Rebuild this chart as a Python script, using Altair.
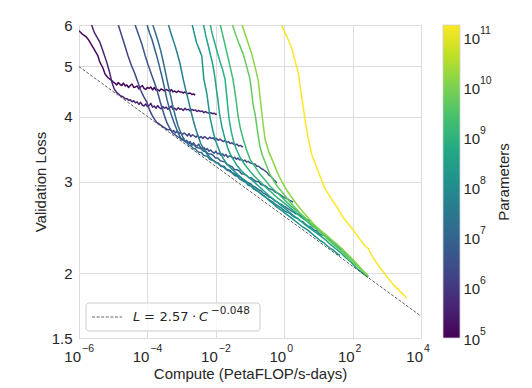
import altair as alt
import pandas as pd

# ---------------- data ----------------
# model sizes (parameters) for each training curve, small -> large
params = [1.3e5, 4e5, 1.8e6, 3.6e6, 7.5e6, 1.5e7, 4e7, 1.8e8, 4e8, 8.5e8, 2e9, 5.5e9, 1.5e10, 1.75e11]

# each curve: (log10 compute [PF/s-days], validation loss)
curve_01 = [(-6.00, 5.85), (-5.90, 5.76), (-5.80, 5.70), (-5.74, 5.64), (-5.65, 5.52), (-5.53, 5.35), (-5.45, 5.24),
            (-5.39, 5.09), (-5.30, 4.96), (-5.24, 4.83), (-5.15, 4.75), (-5.04, 4.69), (-5.00, 4.66),
            (-4.95, 4.64), (-4.90, 4.60), (-4.85, 4.65), (-4.80, 4.61), (-4.75, 4.59), (-4.70, 4.64), (-4.65, 4.58),
            (-4.60, 4.60), (-4.55, 4.55), (-4.50, 4.59), (-4.45, 4.62), (-4.40, 4.55), (-4.35, 4.56), (-4.30, 4.58),
            (-4.25, 4.52), (-4.20, 4.56), (-4.15, 4.59), (-4.10, 4.53), (-4.05, 4.51), (-4.00, 4.55), (-3.95, 4.53),
            (-3.90, 4.56), (-3.85, 4.50), (-3.80, 4.55), (-3.75, 4.50), (-3.70, 4.51), (-3.65, 4.48), (-3.60, 4.52),
            (-3.55, 4.50), (-3.50, 4.48), (-3.45, 4.51), (-3.40, 4.49), (-3.35, 4.47), (-3.30, 4.51), (-3.25, 4.46),
            (-3.20, 4.48), (-3.15, 4.45), (-3.10, 4.48), (-3.05, 4.46), (-3.00, 4.46), (-2.95, 4.44), (-2.90, 4.46),
            (-2.85, 4.43), (-2.80, 4.43), (-2.75, 4.44), (-2.70, 4.41), (-2.65, 4.42), (-2.60, 4.40)]
curve_02 = [(-5.63, 6.00), (-5.55, 5.80), (-5.47, 5.68), (-5.39, 5.56), (-5.30, 5.35), (-5.19, 5.09), (-5.10, 4.85),
            (-5.04, 4.66), (-4.97, 4.52), (-4.90, 4.45), (-4.84, 4.42), (-4.78, 4.38), (-4.72, 4.37), (-4.66, 4.33),
            (-4.60, 4.33), (-4.55, 4.30), (-4.50, 4.31), (-4.45, 4.27), (-4.40, 4.29), (-4.35, 4.25), (-4.30, 4.27),
            (-4.25, 4.22), (-4.20, 4.26), (-4.15, 4.21), (-4.10, 4.19), (-4.05, 4.23), (-4.00, 4.18), (-3.95, 4.20),
            (-3.90, 4.24), (-3.85, 4.17), (-3.80, 4.19), (-3.75, 4.15), (-3.70, 4.20), (-3.65, 4.16), (-3.60, 4.14),
            (-3.55, 4.18), (-3.50, 4.15), (-3.45, 4.17), (-3.40, 4.13), (-3.35, 4.16), (-3.30, 4.19), (-3.25, 4.13),
            (-3.20, 4.15), (-3.15, 4.12), (-3.10, 4.16), (-3.05, 4.13), (-3.00, 4.14), (-2.95, 4.11), (-2.90, 4.15),
            (-2.85, 4.12), (-2.80, 4.13), (-2.75, 4.10), (-2.70, 4.13), (-2.65, 4.11), (-2.60, 4.12), (-2.55, 4.09),
            (-2.50, 4.11), (-2.45, 4.09), (-2.40, 4.10), (-2.35, 4.07), (-2.30, 4.09), (-2.25, 4.07), (-2.20, 4.06),
            (-2.15, 4.07), (-2.10, 4.05), (-2.05, 4.06), (-2.00, 4.04), (-1.97, 4.04)]
curve_03 = [(-4.85, 6.00), (-4.75, 5.72), (-4.66, 5.48), (-4.57, 5.24), (-4.47, 5.02), (-4.38, 4.86), (-4.28, 4.66),
            (-4.20, 4.50), (-4.10, 4.36), (-4.02, 4.27), (-3.94, 4.12), (-3.86, 4.02), (-3.79, 3.95), (-3.73, 3.90),
            (-3.68, 3.88), (-3.63, 3.86), (-3.58, 3.84), (-3.54, 3.82), (-3.48, 3.80), (-3.43, 3.78), (-3.38, 3.77),
            (-3.33, 3.78), (-3.28, 3.74), (-3.23, 3.76), (-3.18, 3.72), (-3.13, 3.75), (-3.08, 3.71), (-3.03, 3.73),
            (-2.98, 3.69), (-2.93, 3.72), (-2.88, 3.70), (-2.83, 3.67), (-2.78, 3.71), (-2.73, 3.66), (-2.68, 3.69),
            (-2.63, 3.67), (-2.58, 3.65), (-2.53, 3.68), (-2.48, 3.64), (-2.43, 3.66), (-2.38, 3.63), (-2.33, 3.66),
            (-2.28, 3.64), (-2.23, 3.62), (-2.18, 3.65), (-2.13, 3.63), (-2.08, 3.64), (-2.03, 3.61), (-1.98, 3.63),
            (-1.93, 3.60), (-1.88, 3.62), (-1.83, 3.60), (-1.78, 3.58), (-1.73, 3.60), (-1.68, 3.57), (-1.63, 3.58),
            (-1.58, 3.55), (-1.53, 3.56), (-1.48, 3.54), (-1.43, 3.53), (-1.38, 3.54), (-1.33, 3.51), (-1.28, 3.52),
            (-1.23, 3.50), (-1.20, 3.50)]
curve_04 = [(-4.36, 6.00), (-4.26, 5.75), (-4.16, 5.51), (-4.07, 5.25), (-3.98, 5.03), (-3.88, 4.82), (-3.78, 4.62),
            (-3.70, 4.45), (-3.63, 4.28), (-3.56, 4.13), (-3.49, 3.99), (-3.42, 3.88), (-3.34, 3.79), (-3.26, 3.72),
            (-3.19, 3.69), (-3.12, 3.66), (-3.05, 3.64), (-3.00, 3.61), (-2.95, 3.63), (-2.90, 3.58), (-2.85, 3.60),
            (-2.80, 3.56), (-2.75, 3.58), (-2.70, 3.53), (-2.65, 3.56), (-2.60, 3.52), (-2.55, 3.51), (-2.50, 3.54),
            (-2.45, 3.49), (-2.40, 3.47), (-2.35, 3.49), (-2.30, 3.45), (-2.25, 3.47), (-2.20, 3.43), (-2.15, 3.45),
            (-2.10, 3.42), (-2.05, 3.40), (-2.00, 3.43), (-1.95, 3.39), (-1.90, 3.40), (-1.85, 3.37), (-1.80, 3.39),
            (-1.75, 3.36), (-1.70, 3.38), (-1.65, 3.34), (-1.60, 3.36), (-1.55, 3.35), (-1.50, 3.32), (-1.45, 3.34),
            (-1.40, 3.31), (-1.35, 3.33), (-1.30, 3.30), (-1.25, 3.31), (-1.20, 3.28), (-1.15, 3.30), (-1.10, 3.27),
            (-1.05, 3.28), (-1.00, 3.26), (-0.95, 3.25), (-0.90, 3.24), (-0.85, 3.24), (-0.80, 3.21), (-0.75, 3.21),
            (-0.70, 3.19), (-0.65, 3.17), (-0.60, 3.16), (-0.55, 3.14), (-0.50, 3.12), (-0.45, 3.09), (-0.40, 3.07),
            (-0.35, 3.05), (-0.30, 3.02), (-0.25, 3.00), (-0.22, 2.98)]
curve_05 = [(-4.01, 6.00), (-3.94, 5.80), (-3.87, 5.64), (-3.80, 5.43), (-3.72, 5.21), (-3.65, 5.00), (-3.57, 4.76),
            (-3.50, 4.54), (-3.43, 4.32), (-3.36, 4.15), (-3.28, 3.99), (-3.20, 3.86), (-3.13, 3.76), (-3.06, 3.67),
            (-2.99, 3.61), (-2.92, 3.59), (-2.85, 3.57), (-2.78, 3.56), (-2.71, 3.53), (-2.64, 3.53), (-2.57, 3.49),
            (-2.50, 3.48), (-2.43, 3.47), (-2.36, 3.43), (-2.29, 3.43), (-2.22, 3.39), (-2.15, 3.39), (-2.08, 3.37),
            (-2.01, 3.33), (-1.94, 3.33), (-1.87, 3.29), (-1.80, 3.28), (-1.73, 3.27), (-1.66, 3.23), (-1.59, 3.22),
            (-1.52, 3.20), (-1.45, 3.16), (-1.38, 3.16), (-1.31, 3.14), (-1.24, 3.10), (-1.17, 3.10), (-1.10, 3.08),
            (-1.03, 3.05), (-0.96, 3.05), (-0.89, 3.02), (-0.82, 3.00), (-0.75, 3.00), (-0.68, 2.96), (-0.61, 2.95),
            (-0.54, 2.94), (-0.47, 2.91), (-0.40, 2.90), (-0.33, 2.89), (-0.26, 2.86), (-0.19, 2.85), (-0.12, 2.83),
            (-0.05, 2.81), (0.02, 2.79), (0.09, 2.78), (0.16, 2.76), (0.26, 2.74)]
curve_06 = [(-3.84, 6.00), (-3.76, 5.78), (-3.69, 5.59), (-3.61, 5.35), (-3.54, 5.11), (-3.47, 4.86), (-3.40, 4.62),
            (-3.32, 4.38), (-3.25, 4.17), (-3.18, 4.00), (-3.11, 3.85), (-3.03, 3.73), (-2.96, 3.65), (-2.90, 3.59),
            (-2.84, 3.56), (-2.78, 3.52), (-2.72, 3.51), (-2.66, 3.47), (-2.60, 3.47), (-2.54, 3.43), (-2.48, 3.41),
            (-2.42, 3.41), (-2.36, 3.37), (-2.30, 3.36), (-2.24, 3.35), (-2.18, 3.31), (-2.12, 3.30), (-2.06, 3.29),
            (-2.00, 3.26), (-1.94, 3.26), (-1.88, 3.23), (-1.82, 3.21), (-1.76, 3.21), (-1.70, 3.17), (-1.64, 3.16),
            (-1.58, 3.15), (-1.52, 3.12), (-1.46, 3.11), (-1.40, 3.09), (-1.34, 3.07), (-1.28, 3.06), (-1.22, 3.03),
            (-1.16, 3.02), (-1.10, 3.00), (-1.04, 2.98), (-0.98, 2.97), (-0.92, 2.94), (-0.86, 2.93), (-0.80, 2.91),
            (-0.74, 2.89), (-0.68, 2.88), (-0.62, 2.85), (-0.56, 2.84), (-0.50, 2.82), (-0.44, 2.80), (-0.38, 2.79),
            (-0.32, 2.77), (-0.26, 2.75), (-0.20, 2.74), (-0.14, 2.72), (-0.08, 2.71), (-0.02, 2.69), (0.04, 2.68),
            (0.10, 2.66), (0.16, 2.65), (0.22, 2.63), (0.28, 2.62), (0.34, 2.60), (0.40, 2.60), (0.46, 2.58),
            (0.52, 2.57), (0.58, 2.55), (0.64, 2.54), (0.70, 2.53), (0.75, 2.52)]
curve_07 = [(-3.40, 6.05), (-3.30, 5.75), (-3.19, 5.47), (-3.12, 5.27), (-3.05, 5.07), (-2.95, 4.71), (-2.88, 4.50),
            (-2.81, 4.32), (-2.74, 4.13), (-2.67, 3.96), (-2.60, 3.81), (-2.52, 3.67), (-2.44, 3.55), (-2.35, 3.46),
            (-2.26, 3.39), (-2.17, 3.34), (-2.09, 3.30), (-2.01, 3.27), (-1.93, 3.25), (-1.85, 3.21), (-1.77, 3.20),
            (-1.69, 3.16), (-1.61, 3.14), (-1.53, 3.12), (-1.45, 3.08), (-1.37, 3.07), (-1.29, 3.03), (-1.21, 3.01),
            (-1.13, 2.99), (-1.05, 2.95), (-0.97, 2.94), (-0.89, 2.90), (-0.81, 2.88), (-0.73, 2.86), (-0.65, 2.83),
            (-0.57, 2.81), (-0.49, 2.78), (-0.41, 2.76), (-0.33, 2.74), (-0.25, 2.71), (-0.17, 2.69), (-0.09, 2.67),
            (-0.01, 2.64), (0.07, 2.62), (0.15, 2.61), (0.23, 2.58), (0.31, 2.56), (0.39, 2.55), (0.47, 2.52),
            (0.55, 2.51), (0.63, 2.48), (0.71, 2.46), (0.79, 2.45), (0.87, 2.42), (0.95, 2.41), (1.03, 2.38),
            (1.09, 2.37), (1.15, 2.36)]
curve_08 = [(-2.70, 6.05), (-2.63, 5.78), (-2.56, 5.54), (-2.48, 5.38), (-2.41, 5.23), (-2.35, 4.72), (-2.26, 4.42),
            (-2.17, 3.99), (-2.08, 3.74), (-1.99, 3.57), (-1.88, 3.42), (-1.78, 3.32), (-1.67, 3.24), (-1.55, 3.18),
            (-1.44, 3.13), (-1.35, 3.09), (-1.25, 3.05), (-1.15, 3.01), (-1.05, 2.97), (-0.95, 2.94), (-0.85, 2.90),
            (-0.75, 2.87), (-0.65, 2.83), (-0.55, 2.80), (-0.45, 2.76), (-0.35, 2.73), (-0.25, 2.69), (-0.15, 2.66),
            (-0.05, 2.63), (0.05, 2.60), (0.15, 2.57), (0.25, 2.54), (0.35, 2.51), (0.45, 2.48), (0.55, 2.45),
            (0.65, 2.43), (0.75, 2.40), (0.85, 2.37), (0.95, 2.34), (1.05, 2.31), (1.15, 2.29), (1.25, 2.26),
            (1.35, 2.23), (1.45, 2.21), (1.55, 2.18), (1.63, 2.16)]
curve_09 = [(-2.37, 6.05), (-2.30, 5.75), (-2.23, 5.51), (-2.17, 5.30), (-2.11, 5.11), (-2.06, 4.92), (-2.02, 4.72),
            (-1.98, 4.50), (-1.94, 4.32), (-1.91, 4.15), (-1.88, 4.01), (-1.82, 3.82), (-1.73, 3.62), (-1.65, 3.48),
            (-1.58, 3.39), (-1.48, 3.30), (-1.38, 3.22), (-1.26, 3.15), (-1.15, 3.10), (-1.05, 3.06), (-0.90, 3.00),
            (-0.75, 2.94), (-0.60, 2.88), (-0.45, 2.82), (-0.30, 2.77), (-0.15, 2.72), (0.00, 2.67), (0.15, 2.62),
            (0.30, 2.57), (0.45, 2.53), (0.60, 2.48), (0.75, 2.44), (0.90, 2.40), (1.05, 2.36), (1.20, 2.32),
            (1.35, 2.27), (1.50, 2.23), (1.65, 2.19), (1.80, 2.14), (1.95, 2.10), (2.10, 2.05), (2.25, 2.01),
            (2.38, 1.98), (2.45, 1.965)]
curve_10 = [(-2.17, 6.05), (-2.10, 5.75), (-2.02, 5.51), (-1.95, 5.30), (-1.88, 5.11), (-1.80, 4.92), (-1.73, 4.72),
            (-1.69, 4.45), (-1.65, 4.18), (-1.61, 3.95), (-1.55, 3.75), (-1.48, 3.58), (-1.40, 3.46), (-1.29, 3.34),
            (-1.15, 3.23), (-1.00, 3.14), (-0.85, 3.06), (-0.71, 3.00), (-0.55, 2.93), (-0.40, 2.87), (-0.25, 2.81),
            (-0.10, 2.76), (0.05, 2.71), (0.20, 2.66), (0.35, 2.61), (0.50, 2.56), (0.65, 2.52), (0.80, 2.47),
            (0.95, 2.43), (1.10, 2.39), (1.25, 2.34), (1.40, 2.30), (1.55, 2.25), (1.70, 2.21), (1.85, 2.16),
            (2.00, 2.12), (2.15, 2.07), (2.30, 2.02), (2.45, 1.97)]
curve_11 = [(-1.88, 6.05), (-1.80, 5.75), (-1.70, 5.39), (-1.60, 5.05), (-1.50, 4.72), (-1.45, 4.50), (-1.41, 4.32),
            (-1.35, 4.01), (-1.29, 3.82), (-1.20, 3.62), (-1.10, 3.45), (-1.00, 3.31), (-0.85, 3.20), (-0.71, 3.10),
            (-0.56, 3.02), (-0.42, 2.94), (-0.27, 2.88), (-0.12, 2.82), (0.05, 2.75), (0.20, 2.69), (0.35, 2.64),
            (0.50, 2.59), (0.65, 2.54), (0.80, 2.49), (0.95, 2.45), (1.10, 2.40), (1.25, 2.36), (1.40, 2.31),
            (1.55, 2.27), (1.70, 2.22), (1.85, 2.17), (2.00, 2.12), (2.15, 2.07), (2.30, 2.02), (2.45, 1.97)]
curve_12 = [(-1.53, 6.05), (-1.42, 5.75), (-1.31, 5.50), (-1.20, 5.28), (-1.10, 5.00), (-1.00, 4.72), (-0.95, 4.45),
            (-0.91, 4.22), (-0.85, 4.04), (-0.78, 3.75), (-0.71, 3.50), (-0.63, 3.36), (-0.56, 3.27), (-0.42, 3.10),
            (-0.21, 2.94), (-0.04, 2.85), (0.17, 2.74), (0.46, 2.61), (0.75, 2.50), (1.05, 2.40), (1.34, 2.30),
            (1.63, 2.21), (1.92, 2.12), (2.22, 2.04), (2.45, 1.975)]
curve_13 = [(-1.24, 6.02), (-1.10, 5.65), (-0.95, 5.28), (-0.85, 4.98), (-0.76, 4.69), (-0.71, 4.38), (-0.66, 4.10),
            (-0.61, 3.84), (-0.56, 3.62), (-0.45, 3.42), (-0.33, 3.28), (-0.20, 3.12), (-0.07, 3.00), (0.10, 2.87),
            (0.37, 2.71), (0.55, 2.62), (0.85, 2.49), (1.05, 2.42), (1.25, 2.36), (1.44, 2.30), (1.65, 2.24),
            (1.92, 2.15), (2.22, 2.05), (2.45, 1.97)]
curve_14 = [(-0.07, 5.98), (0.00, 5.84), (0.10, 5.66), (0.22, 5.42), (0.30, 5.17), (0.41, 4.86), (0.48, 4.50),
            (0.56, 4.16), (0.60, 3.98), (0.64, 3.82), (0.66, 3.78), (0.70, 3.64), (0.80, 3.39), (0.90, 3.26),
            (1.00, 3.13), (1.10, 3.01), (1.20, 2.90), (1.35, 2.80), (1.54, 2.68), (1.70, 2.57), (1.85, 2.50),
            (2.02, 2.42), (2.20, 2.33), (2.35, 2.26), (2.41, 2.24), (2.46, 2.23), (2.60, 2.14), (2.80, 2.05),
            (3.00, 1.97), (3.19, 1.90), (3.40, 1.84), (3.58, 1.79)]
curves = [curve_01, curve_02, curve_03, curve_04, curve_05, curve_06, curve_07,
          curve_08, curve_09, curve_10, curve_11, curve_12, curve_13, curve_14]

# power-law fit L = 2.57 * C^-0.048, read at the two plot edges
fit_compute = [1e-6, 1e4]
fit_loss = [4.99, 1.653]

x_ticks = [1e-6, 1e-4, 1e-2, 1e0, 1e2, 1e4]
y_ticks = [1.5, 2, 3, 4, 5, 6]
p_ticks = [1e5, 1e6, 1e7, 1e8, 1e9, 1e10, 1e11]
p_range = [1e5, 1.75e11]

viridis_stops = ["#440154", "#482475", "#414487", "#355f8d", "#2a788e", "#21918c",
                 "#22a884", "#44bf70", "#7ad151", "#bddf26", "#fde725"]

# ---------------- frames ----------------
rows = []
for s, (p, pts) in enumerate(zip(params, curves)):
    for j, (lc, loss) in enumerate(pts):
        rows.append({"series": s, "params": p, "compute": 10 ** lc, "loss": loss, "idx": j})
df = pd.DataFrame(rows)
fit_df = pd.DataFrame({"compute": fit_compute, "loss": fit_loss})
cb_df = pd.DataFrame({"lo": [p_range[0]], "hi": [p_range[1]]})
one = pd.DataFrame({"a": [0]})

# ---------------- styling ----------------
W, H = 342, 313
FONT = "Liberation Sans"
MATH = "DejaVu Sans"
TXT = "#262626"
GRID = "#dcdcdc"
CB_X0 = W + 22
CB_X1 = W + 39

xscale = alt.Scale(type="log", domain=[1e-6, 1e4], nice=False)
yscale = alt.Scale(type="log", domain=[1.5, 6], nice=False)
cscale = alt.Scale(type="log", domain=p_range, scheme="viridis", nice=False)
pscale = alt.Scale(type="log", domain=p_range, nice=False)

common = dict(ticks=False, domain=False, labelFont=FONT, labelColor=TXT, titleFont=FONT,
              titleColor=TXT, titleFontWeight="normal", labelOverlap=False, labelFlush=False)

x_axis_base = alt.Axis(orient="bottom", values=x_ticks, labelExpr="'10'", labelAlign="right",
                       labelOffset=1.5, labelPadding=11.5, labelFontSize=15, grid=True,
                       gridColor=GRID, gridWidth=1, title="Compute (PetaFLOP/s-days)",
                       titleFontSize=15, titlePadding=2, **common)
x_axis_exp = alt.Axis(orient="bottom", values=x_ticks,
                      labelExpr="format(round(log(datum.value)/LN10), 'd')",
                      labelAlign="left", labelOffset=2.5, labelPadding=5.2, labelFontSize=10.5,
                      grid=False, title=None, **common)
y_axis = alt.Axis(orient="left", values=y_ticks,
                  labelExpr="datum.value == 1.5 ? '1.5' : format(datum.value, 'd')",
                  labelFontSize=15, labelPadding=7, grid=True, gridColor=GRID, gridWidth=1,
                  title="Validation Loss", titleFontSize=15, titlePadding=3, **common)
cb_axis_base = alt.Axis(orient="right", offset=CB_X1 - W, values=p_ticks, labelExpr="'10'",
                        labelFontSize=15, labelPadding=3, labelOffset=1, labelBaseline="middle",
                        grid=False, title="Parameters", titleFontSize=15, titleAngle=270,
                        titleBaseline="top", titlePadding=17, **common)
cb_axis_exp = alt.Axis(orient="right", offset=CB_X1 - W, values=p_ticks,
                       labelExpr="format(round(log(datum.value)/LN10), 'd')",
                       labelFontSize=10.5, labelPadding=19.5, labelOffset=-7,
                       labelBaseline="middle", grid=False, title=None, **common)

lines = alt.Chart(df).mark_line(strokeWidth=1.5, clip=True, strokeJoin="round").encode(
    x=alt.X("compute:Q", scale=xscale, axis=x_axis_base),
    y=alt.Y("loss:Q", scale=yscale, axis=y_axis),
    color=alt.Color("params:Q", scale=cscale, legend=None),
    detail="series:N",
    order="idx:Q",
)

fit = alt.Chart(fit_df).mark_line(strokeDash=[3, 1.6], strokeWidth=0.8, color="#3a3a3a", clip=True).encode(
    x=alt.X("compute:Q", scale=xscale, axis=x_axis_exp),
    y=alt.Y("loss:Q", scale=yscale, axis=None),
)

grad = alt.LinearGradient(
    gradient="linear",
    stops=[alt.GradientStop(color=c, offset=i / (len(viridis_stops) - 1)) for i, c in enumerate(viridis_stops)],
    x1=0, x2=0, y1=1, y2=0,
)
cbar = alt.Chart(cb_df).mark_rect(fill=grad, stroke="#d0d0d0", strokeWidth=0.8).encode(
    x=alt.value(CB_X0), x2=alt.value(CB_X1),
    y=alt.Y("lo:Q", scale=pscale, axis=cb_axis_base),
    y2="hi:Q",
)
cbar_exp = alt.Chart(cb_df).mark_rect(opacity=0).encode(
    x=alt.value(CB_X0), x2=alt.value(CB_X1),
    y=alt.Y("lo:Q", scale=pscale, axis=cb_axis_exp),
    y2="hi:Q",
)

# legend box (annotation)
box = alt.Chart(one).mark_rect(fill="white", fillOpacity=0.8, stroke="#cccccc", strokeWidth=1,
                               cornerRadius=3).encode(
    x=alt.value(7), x2=alt.value(181), y=alt.value(278), y2=alt.value(306))
sample = alt.Chart(one).mark_rule(strokeDash=[3, 1.6], strokeWidth=0.8, color="#3a3a3a").encode(
    x=alt.value(13), x2=alt.value(43), y=alt.value(292))


def txt(s, x, y, size=13, italic=False):
    kw = dict(text=s, font=MATH, fontSize=size, align="left", baseline="middle", color=TXT)
    if italic:
        kw["fontStyle"] = "italic"
    return alt.Chart(one).mark_text(**kw).encode(x=alt.value(x), y=alt.value(y))


legend_txt = [
    txt("L", 54, 292, italic=True),
    txt("=", 65, 292),
    txt("2.57", 80.5, 292),
    txt("\u00b7", 113, 292),
    txt("C", 120, 292, italic=True),
    txt("\u22120.048", 132, 286, size=10.5),
]

chart = alt.layer(lines, fit, cbar, cbar_exp, box, sample, *legend_txt).resolve_scale(
    y="independent"
).resolve_axis(x="independent", y="independent").properties(
    width=W, height=H, padding={"left": 25, "top": 10, "right": 5, "bottom": 5}
).configure_view(stroke="#cccccc", strokeWidth=1).configure(background="white")

chart.save("out.html", embed_options={"renderer": "svg", "actions": False})
